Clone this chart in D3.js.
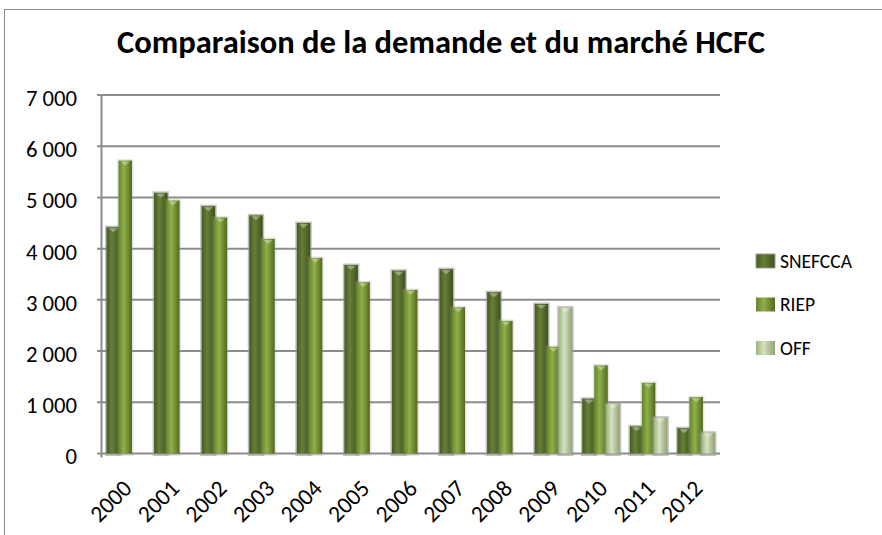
<!DOCTYPE html>
<meta charset="utf-8">
<style>
    body {
        margin: 0;
        background: #fff;
    }
    svg text {
        font-family: Carlito, Lato, "Open Sans", sans-serif;
        fill: #000;
    }
</style>

<body>
    <script src="https://cdn.jsdelivr.net/npm/d3@7/dist/d3.min.js"></script>
    <script>
        var years = ["2000", "2001", "2002", "2003", "2004", "2005", "2006",
            "2007", "2008", "2009", "2010", "2011", "2012"];
        var snefcca = [4420, 5090, 4830, 4650, 4500, 3680, 3570, 3600, 3150, 2920, 1070, 530, 495];
        var riep = [5720, 4940, 4610, 4190, 3820, 3345, 3195, 2855, 2590, 2085, 1720, 1380, 1100];
        var off = [null, null, null, null, null, null, null, null, null, 2850, 970, 700, 405];
        var seriesNames = ["SNEFCCA", "RIEP", "OFF"];
        var yTicks = [0, 1000, 2000, 3000, 4000, 5000, 6000, 7000];

        var width = 882,
            height = 535;

        var series = [snefcca, riep, off].map(function (vals, i) {
            return { name: seriesNames[i], values: vals };
        });

        var svg = d3.select("body").append("svg")
            .attr("width", width)
            .attr("height", height);

        var defs = svg.append("defs");
        var looks = {
            SNEFCCA: ["#465a20", "#667f38", "#3f511c"],
            RIEP: ["#66842a", "#8fb04a", "#52691e"],
            OFF: ["#9fb27f", "#d4e1bf", "#92a472"]
        };
        seriesNames.forEach(function (n) {
            var g = defs.append("linearGradient")
                .attr("id", "g" + n)
                .attr("x1", 0).attr("x2", 1).attr("y1", 0).attr("y2", 0);
            g.append("stop").attr("offset", "0%").attr("stop-color", looks[n][0]);
            g.append("stop").attr("offset", "40%").attr("stop-color", looks[n][1]);
            g.append("stop").attr("offset", "100%").attr("stop-color", looks[n][2]);
        });

        // chart border
        svg.append("rect")
            .attr("x", 4.5).attr("y", 9.5)
            .attr("width", 900).attr("height", 600)
            .attr("fill", "none")
            .attr("stroke", "#8a8a8a");

        var x = d3.scaleBand()
            .domain(years)
            .range([101.5, 720]);

        var x1 = d3.scaleBand()
            .domain(seriesNames)
            .range([5, 41]);

        var y = d3.scaleLinear()
            .domain([0, 7000])
            .range([453.5, 95]);

        // grid
        svg.append("g")
            .selectAll("line")
            .data(yTicks)
            .enter().append("line")
            .attr("x1", 97)
            .attr("x2", 720)
            .attr("y1", function (d) { return y(d); })
            .attr("y2", function (d) { return y(d); })
            .attr("stroke", "#8c8c8c")
            .attr("stroke-width", 2);

        svg.append("line")
            .attr("x1", 101.5).attr("x2", 101.5)
            .attr("y1", y(7000) - 1).attr("y2", y(0) + 4)
            .attr("stroke", "#8c8c8c")
            .attr("stroke-width", 2);

        // y labels
        var fmt = function (d) {
            return d3.format(",")(d).replace(",", " ");
        };
        svg.append("g")
            .selectAll("text")
            .data(yTicks)
            .enter().append("text")
            .attr("x", 77)
            .attr("y", function (d) { return y(d) + 3; })
            .attr("dy", "0.35em")
            .attr("text-anchor", "end")
            .style("font-size", "22.7px")
            .text(fmt);

        // bars
        var bw = x1.bandwidth() + 1.5;
        series.forEach(function (s) {
            var g = svg.append("g");
            var data = years.map(function (yr, i) {
                return { year: yr, v: s.values[i] };
            }).filter(function (d) { return d.v != null; });

            g.selectAll("rect.shadow")
                .data(data)
                .enter().append("rect")
                .attr("class", "shadow")
                .attr("x", function (d) { return x(d.year) + x1(s.name) - 1.5; })
                .attr("y", function (d) { return y(d.v) - 1.5; })
                .attr("width", bw + 3)
                .attr("height", function (d) { return y(0) - y(d.v) + 4; })
                .attr("fill", "#9a9a9a")
                .attr("opacity", s.name == "RIEP" ? 0.25 : 0.6);

            g.selectAll("rect.bar")
                .data(data)
                .enter().append("rect")
                .attr("class", "bar")
                .attr("x", function (d) { return x(d.year) + x1(s.name); })
                .attr("y", function (d) { return y(d.v); })
                .attr("width", bw)
                .attr("height", function (d) { return y(0) - y(d.v); })
                .attr("fill", "url(#g" + s.name + ")");

            // light top cap
            g.selectAll("path.cap")
                .data(data)
                .enter().append("path")
                .attr("class", "cap")
                .attr("d", function (d) {
                    var x0 = x(d.year) + x1(s.name), t = y(d.v);
                    return "M" + (x0 + 2) + "," + (t + 1) + "L" + (x0 + bw - 2) + "," + (t + 1) +
                        "L" + (x0 + bw / 2) + "," + (t + 5) + "Z";
                })
                .attr("fill", "#ffffff")
                .attr("opacity", 0.35);
        });

        // x labels
        svg.append("g")
            .selectAll("text")
            .data(years)
            .enter().append("text")
            .attr("transform", function (d) {
                return "translate(" + (x(d) + x.bandwidth() / 2 + 2) + ",484) rotate(-45)";
            })
            .attr("text-anchor", "end")
            .attr("dy", "0.35em")
            .style("font-size", "23.5px")
            .text(function (d) { return d; });

        // title
        var title = svg.append("text")
            .attr("x", width / 2)
            .attr("y", 53)
            .attr("text-anchor", "middle")
            .style("font-weight", "bold")
            .style("font-size", "26px")
            .text("Comparaison de la demande et du marché HCFC");
        var tw = title.node().getComputedTextLength();
        title.style("font-size", (26 * 648 / tw) + "px");

        // legend
        var legend = svg.append("g")
            .selectAll("g")
            .data(seriesNames)
            .enter().append("g")
            .attr("transform", function (d, i) {
                return "translate(756," + (261 + i * 43.5) + ")";
            });
        legend.append("rect")
            .attr("x", 0).attr("y", -7)
            .attr("width", 19).attr("height", 14)
            .attr("fill", function (d) { return "url(#g" + d + ")"; })
            .attr("stroke", function (d) { return d == "SNEFCCA" ? "#999" : "none"; });
        legend.append("text")
            .attr("x", 24)
            .attr("dy", "0.35em")
            .style("font-size", "19.5px")
            .text(function (d) { return d; });
    </script>
</body>
